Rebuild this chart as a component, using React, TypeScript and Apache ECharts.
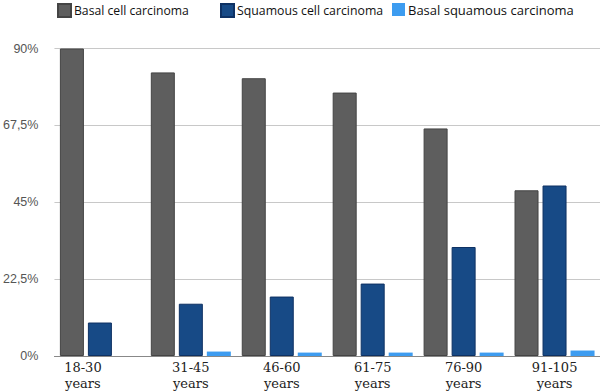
import React, { useEffect, useRef } from "react";
import * as echarts from "echarts";

const categories = ["18-30\nyears", "31-45\nyears", "46-60\nyears", "61-75\nyears", "76-90\nyears", "91-105\nyears"];
const basalCell = [90, 83.0, 81.3, 77.1, 66.6, 48.5];
const squamousCell = [9.8, 15.3, 17.4, 21.2, 31.9, 49.9];
const basalSquamous = [0, 1.3, 1.0, 1.0, 1.0, 1.6];
const yTicks = [0, 22.5, 45, 67.5, 90];
const seriesNames = ["Basal cell carcinoma", "Squamous cell carcinoma", "Basal squamous carcinoma"];

export default function App() {
  const ref = useRef<HTMLDivElement>(null);
  useEffect(() => {
    if (!ref.current) return;
    const chart = echarts.init(ref.current, undefined, { renderer: "svg" });
    const legendLefts = [57, 220, 392];
    const legendSizes = [12.2, 12.3, 13];
    chart.setOption({
      animation: false,
      legend: seriesNames.map((n, i) => ({
        data: [n],
        left: legendLefts[i],
        top: 3,
        itemWidth: 13,
        itemHeight: 13,
        itemGap: 0,
        icon: "rect",
        textStyle: { fontFamily: "Open Sans", fontSize: legendSizes[i], color: "#111", padding: [0, 0, 0, -2] },
        padding: 0,
      })),
      grid: { left: 52, right: 0, top: 48.5, bottom: 34.5, containLabel: false },
      xAxis: {
        type: "category",
        data: categories.map((c, i) =>
          i === 0 ? { value: c, textStyle: { padding: [0, 34, 0, 0] } } : c
        ),
        axisLine: { lineStyle: { color: "#888", width: 1 } },
        axisTick: { show: false },
        axisLabel: {
          interval: 0,
          margin: 3,
          fontFamily: "DejaVu Serif",
          fontSize: 13,
          lineHeight: 16,
          color: "#222",
        },
      },
      yAxis: {
        type: "value",
        min: 0,
        max: 90,
        interval: 22.5,
        axisLine: { show: false },
        axisTick: { show: false },
        splitLine: { lineStyle: { color: "#c8c8c8", width: 1 } },
        axisLabel: {
          margin: 16,
          fontFamily: "Liberation Sans",
          fontSize: 12.5,
          color: "#555",
          formatter: (v: number) => (yTicks.includes(v) ? String(v).replace(".", ",") + "%" : ""),
        },
      },
      series: [
        {
          name: seriesNames[0],
          type: "bar",
          data: basalCell,
          barWidth: 24,
          barGap: "16.7%",
          itemStyle: { color: "#5e5e5e", borderColor: "#444", borderWidth: 1 },
        },
        {
          name: seriesNames[1],
          type: "bar",
          data: squamousCell,
          barWidth: 24,
          barGap: "16.7%",
          itemStyle: { color: "#174a86", borderColor: "#0e3163", borderWidth: 1 },
        },
        {
          name: seriesNames[2],
          type: "bar",
          data: basalSquamous,
          barWidth: 24,
          barGap: "16.7%",
          itemStyle: { color: "#3d9cf0", borderWidth: 0 },
        },
      ],
    });
    return () => chart.dispose();
  }, []);
  return <div ref={ref} style={{ width: 600, height: 391, position: "absolute", left: 0, top: 0 }} />;
}
